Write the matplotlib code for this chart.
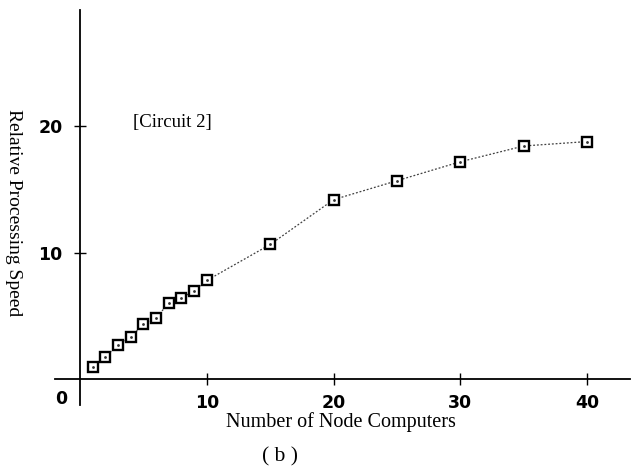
"""Relative processing speed vs. number of node computers, circuit 2."""
import matplotlib

matplotlib.use("Agg")
import matplotlib.pyplot as plt

nodes = [1, 2, 3, 4, 5, 6, 7, 8, 9, 10, 15, 20, 25, 30, 35, 40]
speed = [0.95, 1.75, 2.7, 3.3, 4.35, 4.85, 6.0, 6.4, 7.0, 7.8,
         10.65, 14.2, 15.7, 17.2, 18.45, 18.8]
x_ticks = [10, 20, 30, 40]
y_ticks = [10, 20]

W, H = 631, 468
serif = ["Liberation Serif", "DejaVu Serif"]
tick_font = {"family": ["Liberation Sans Narrow", "DejaVu Sans"],
             "weight": "bold", "size": 12.5}

fig = plt.figure(figsize=(W / 100, H / 100), dpi=100)
ax = fig.add_axes([0.0866, 0.1346, 0.9123, 0.8436])
ax.set_xlim(-2, 43.4)
ax.set_ylim(-2.06, 29.2)

for side in ("top", "right"):
    ax.spines[side].set_visible(False)
ax.spines["left"].set_position(("data", 0))
ax.spines["bottom"].set_position(("data", 0))
for side in ("left", "bottom"):
    ax.spines[side].set_linewidth(1.3)

ax.plot(nodes, speed, color="0.25", lw=0.9, ls=(0, (1.5, 1.5)),
        marker="s", ms=6.5, mfc="white", mec="black", mew=1.7, zorder=3)
ax.plot(nodes, speed, ls="none", marker=".", ms=2, color="0.2", zorder=4)

ax.set_xticks(x_ticks)
ax.set_yticks(y_ticks)
ax.tick_params(direction="inout", length=9, width=1.0, colors="black")
ax.tick_params(axis="x", pad=6)
ax.tick_params(axis="y", pad=8)
for lbl in ax.get_xticklabels() + ax.get_yticklabels():
    lbl.set_fontproperties(tick_font)

fig.text(61 / W, 1 - 399 / H, "0", ha="center", va="center", **tick_font)

fig.text(341 / W, 1 - 422 / H, "Number of Node Computers",
         ha="center", va="center", family=serif, size=14.5)
fig.text(13 / W, 1 - 213 / H, "Relative Processing Speed",
         ha="center", va="center", rotation=-90, family=serif, size=14)
fig.text(172 / W, 1 - 123 / H, "[Circuit 2]",
         ha="center", va="center", family=serif, size=13.5)
fig.text(280 / W, 1 - 457 / H, "( b )",
         ha="center", va="center", family=serif, size=15.5)

fig.savefig("out.png", dpi=100)
